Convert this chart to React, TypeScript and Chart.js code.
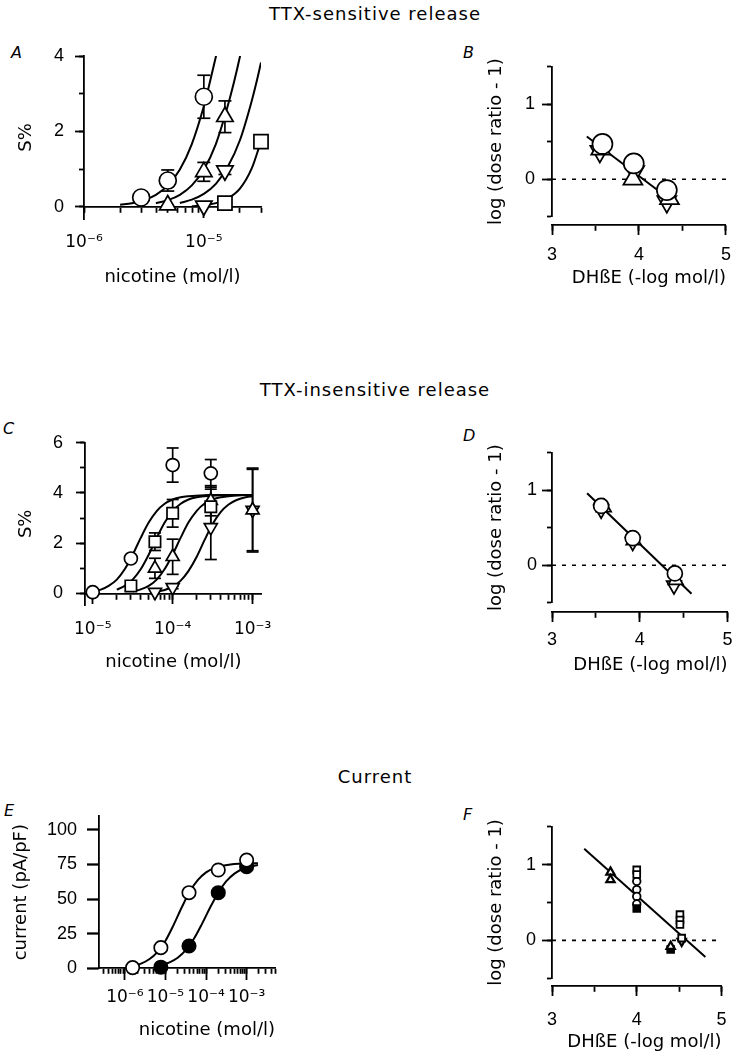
import React, { useEffect, useRef } from 'react';
import { Chart, registerables } from 'chart.js';

Chart.register(...registerables);

const FONT = "'DejaVu Sans', 'Liberation Sans', Arial, sans-serif";
const TICK_FONT = "'Liberation Sans', Arial, 'DejaVu Sans', sans-serif";
Chart.defaults.font.family = FONT;
Chart.defaults.font.size = 18;
Chart.defaults.color = '#000';

// ---------------- text ----------------
const SECTION_TITLES = ['TTX-sensitive release', 'TTX-insensitive release', 'Current'];
const SECTION_TOPS = [5, 381, 768];
const PANEL_LETTERS = ['A', 'B', 'C', 'D', 'E', 'F'];
const LETTER_POS = [[11, 45], [463, 45], [3, 421], [463, 428], [4, 803], [463, 807]];
const NICOTINE_TITLE = 'nicotine (mol/l)';
const DHBE_TITLE = 'DHßE (-log mol/l)';
const SCHILD_Y_TITLE = 'log (dose ratio - 1)';

// ---------------- Panel A : TTX-sensitive release ----------------
const A_CIRC_X = [3e-6, 5e-6, 1e-5];
const A_CIRC_Y = [0.25, 0.7, 2.92];
const A_CIRC_E = [0, 0.28, 0.57];
const A_UP_X = [5e-6, 1e-5, 1.5e-5];
const A_UP_Y = [0.05, 0.93, 2.39];
const A_UP_E = [0, 0.25, 0.42];
const A_DOWN_X = [1e-5, 1.5e-5];
const A_DOWN_Y = [0.03, 0.96];
const A_DOWN_E = [0, 0.1];
const A_SQ_X = [1.5e-5, 3e-5];
const A_SQ_Y = [0.1, 1.73];
const A_SQ_E = [0, 0.08];

const A_FIT1_X = [2.0e-6, 2.51e-6, 3.16e-6, 3.98e-6, 5.01e-6, 6.31e-6, 7.94e-6, 1.0e-5, 1.12e-5, 1.26e-5, 1.32e-5];
const A_FIT1_Y = [0.055, 0.099, 0.179, 0.321, 0.57, 0.99, 1.667, 2.668, 3.29, 3.98, 4.27];
const A_FIT2_X = [3.98e-6, 5.01e-6, 6.31e-6, 7.94e-6, 1.0e-5, 1.26e-5, 1.58e-5, 1.78e-5, 2.0e-5, 2.09e-5];
const A_FIT2_Y = [0.099, 0.179, 0.321, 0.57, 0.99, 1.667, 2.668, 3.29, 3.98, 4.27];
const A_FIT3_X = [6.31e-6, 7.94e-6, 1.0e-5, 1.26e-5, 1.58e-5, 2.0e-5, 2.51e-5, 2.82e-5, 3.0e-5];
const A_FIT3_Y = [0.106, 0.192, 0.344, 0.61, 1.056, 1.767, 2.81, 3.45, 3.83];
const A_FIT4_X = [7.94e-6, 1.0e-5, 1.26e-5, 1.58e-5, 2.0e-5, 2.51e-5, 3.0e-5];
const A_FIT4_Y = [0.02, 0.045, 0.1, 0.221, 0.483, 1.019, 1.742];

const A_X_LABEL_VALUES = [1e-6, 1e-5];
const A_X_LABELS = ['10⁻⁶', '10⁻⁵'];
const A_Y_TICKS = [0, 1, 2, 3, 4];
const A_Y_MAJOR = [0, 2, 4];
const A_Y_LABEL_VALUES = [0, 2, 4];
const A_Y_LABELS = ['0', '2', '4'];

// ---------------- Panel B : Schild plot, TTX-sensitive ----------------
const B_CIRC_X = [3.58, 3.94, 4.32];
const B_CIRC_Y = [0.47, 0.21, -0.145];
const B_UP_X = [3.56, 3.93, 4.35];
const B_UP_Y = [0.4, 0.0, -0.26];
const B_DOWN_X = [3.55, 3.95, 4.32];
const B_DOWN_Y = [0.37, 0.1, -0.3];
const B_LINE_X = [3.4, 4.39];
const B_LINE_Y = [0.57, -0.3];

// ---------------- Panel C : TTX-insensitive release ----------------
const C_CIRC_X = [1e-5, 3e-5, 1e-4, 3e-4];
const C_CIRC_Y = [0.05, 1.39, 5.11, 4.78];
const C_CIRC_E = [0, 0.12, 0.68, 0.55];
const C_SQ_X = [3e-5, 6e-5, 1e-4, 3e-4];
const C_SQ_Y = [0.3, 2.06, 3.19, 3.45];
const C_SQ_E = [0.05, 0.35, 0.55, 0.7];
const C_UP_X = [6e-5, 1e-4, 3e-4, 1e-3];
const C_UP_Y = [1.0, 1.46, 3.69, 3.32];
const C_UP_E = [0.4, 0.7, 0.6, 1.67];
const C_DOWN_X = [6e-5, 1e-4, 3e-4, 1e-3];
const C_DOWN_Y = [0.05, 0.24, 2.63, 3.32];
const C_DOWN_E = [0, 0.05, 1.28, 1.62];

const C_FIT1_X = [1.0e-5, 1.26e-5, 1.58e-5, 2.0e-5, 2.51e-5, 3.16e-5, 3.98e-5, 5.01e-5, 6.31e-5, 7.94e-5, 1.0e-4, 1.26e-4, 1.58e-4, 2.51e-4, 3.98e-4, 1.0e-3];
const C_FIT1_Y = [0.08, 0.15, 0.3, 0.55, 0.96, 1.54, 2.21, 2.82, 3.28, 3.57, 3.74, 3.83, 3.87, 3.91, 3.92, 3.92];
const C_FIT2_X = [2.0e-5, 2.51e-5, 3.16e-5, 3.98e-5, 5.01e-5, 6.31e-5, 7.94e-5, 1.0e-4, 1.26e-4, 1.58e-4, 2.0e-4, 2.51e-4, 3.98e-4, 1.0e-3];
const C_FIT2_Y = [0.15, 0.3, 0.55, 0.96, 1.54, 2.21, 2.82, 3.28, 3.57, 3.74, 3.83, 3.87, 3.91, 3.92];
const C_FIT3_X = [3.16e-5, 3.98e-5, 5.01e-5, 6.31e-5, 7.94e-5, 1.0e-4, 1.26e-4, 1.58e-4, 2.0e-4, 2.51e-4, 3.16e-4, 3.98e-4, 5.01e-4, 6.31e-4, 1.0e-3];
const C_FIT3_Y = [0.08, 0.16, 0.3, 0.55, 0.97, 1.55, 2.22, 2.83, 3.29, 3.58, 3.74, 3.83, 3.87, 3.9, 3.92];
const C_FIT4_X = [6.31e-5, 7.94e-5, 1.0e-4, 1.26e-4, 1.58e-4, 2.0e-4, 2.51e-4, 3.16e-4, 3.98e-4, 5.01e-4, 6.31e-4, 7.94e-4, 1.0e-3];
const C_FIT4_Y = [0.07, 0.14, 0.27, 0.51, 0.9, 1.46, 2.13, 2.76, 3.24, 3.54, 3.72, 3.82, 3.87];

const C_X_LABEL_VALUES = [1e-5, 1e-4, 1e-3];
const C_X_LABELS = ['10⁻⁵', '10⁻⁴', '10⁻³'];
const C_Y_TICKS = [0, 1, 2, 3, 4, 5, 6];
const C_Y_MAJOR = [0, 2, 4, 6];
const C_Y_LABEL_VALUES = [0, 2, 4, 6];
const C_Y_LABELS = ['0', '2', '4', '6'];

// ---------------- Panel D : Schild plot, TTX-insensitive ----------------
const D_CIRC_X = [3.56, 3.92, 4.4];
const D_CIRC_Y = [0.79, 0.36, -0.11];
const D_UP_X = [3.59, 3.93, 4.41];
const D_UP_Y = [0.77, 0.33, -0.2];
const D_DOWN_X = [3.56, 3.92, 4.39];
const D_DOWN_Y = [0.74, 0.31, -0.27];
const D_LINE_X = [3.4, 4.59];
const D_LINE_Y = [0.96, -0.38];

// ---------------- Panel E : current ----------------
const E_OPEN_X = [1.55e-6, 7.7e-6, 3.8e-5, 2.0e-4, 1.0e-3];
const E_OPEN_Y = [0.5, 14.9, 54.6, 71.0, 78.2];
const E_FILL_X = [7.7e-6, 3.8e-5, 2.0e-4, 1.0e-3];
const E_FILL_Y = [0.8, 16.1, 54.6, 73.4];
const E_FIT_OPEN_X = [1.58e-6, 2.51e-6, 3.98e-6, 6.31e-6, 1.0e-5, 1.58e-5, 2.51e-5, 3.98e-5, 6.31e-5, 1.0e-4, 1.58e-4, 2.51e-4, 3.98e-4, 6.31e-4, 1.0e-3, 1.58e-3, 1.9e-3];
const E_FIT_OPEN_Y = [1.8, 3.4, 6.5, 11.7, 19.9, 31.2, 43.9, 55.4, 63.8, 69.3, 72.4, 74.1, 75.0, 75.5, 75.7, 75.9, 75.9];
const E_FIT_FILL_X = [7.94e-6, 1.26e-5, 2.0e-5, 3.16e-5, 5.01e-5, 7.94e-5, 1.26e-4, 2.0e-4, 3.16e-4, 5.01e-4, 7.94e-4, 1.26e-3, 1.9e-3];
const E_FIT_FILL_Y = [2.35, 4.29, 7.64, 13.1, 21.3, 32.1, 43.9, 54.6, 62.9, 68.4, 71.7, 73.6, 74.6];

const E_X_LABEL_VALUES = [1e-6, 1e-5, 1e-4, 1e-3];
const E_X_LABELS = ['10⁻⁶', '10⁻⁵', '10⁻⁴', '10⁻³'];
const E_Y_TICKS = [0, 25, 50, 75, 100];
const E_Y_LABELS = ['0', '25', '50', '75', '100'];

// ---------------- Panel F : Schild plot, current ----------------
const F_UP_X = [3.69, 3.69, 4.4];
const F_UP_Y = [0.9, 0.8, -0.08];
const F_SQ_X = [4.0, 4.0, 4.51, 4.51, 4.51, 4.53];
const F_SQ_Y = [0.93, 0.87, 0.34, 0.27, 0.21, 0.03];
const F_SQ_FILL_X = [4.0, 4.4];
const F_SQ_FILL_Y = [0.42, -0.12];
const F_CIRC_X = [4.0, 4.0, 4.0, 4.0];
const F_CIRC_Y = [0.78, 0.67, 0.58, 0.48];
const F_DOWN_X = [4.53];
const F_DOWN_Y = [-0.01];
const F_LINE_X = [3.38, 4.81];
const F_LINE_Y = [1.21, -0.22];

// ---------------- shared Schild axes ----------------
const SCHILD_X_TICKS = [3, 3.5, 4, 4.5, 5];
const SCHILD_X_MAJOR = [3, 4, 5];
const SCHILD_X_LABELS = ['3', '4', '5'];
const SCHILD_Y_TICKS = [-0.5, 0, 0.5, 1, 1.5];
const SCHILD_Y_MAJOR = [0, 1];
const SCHILD_Y_LABEL_VALUES = [0, 1];
const SCHILD_Y_LABELS = ['0', '1'];
const ZERO_X = [3, 5];
const ZERO_Y = [0, 0];

// log-axis tick positions (1..9 x 10^n inside [lo, hi])
function logTicks(lo: number, hi: number): number[] {
  const out: number[] = [];
  for (let e = Math.floor(Math.log10(lo)) - 1; e <= Math.ceil(Math.log10(hi)); e++) {
    for (let m = 1; m <= 9; m++) {
      const v = m * Math.pow(10, e);
      if (v >= lo * (1 - 1e-9) && v <= hi * (1 + 1e-9)) out.push(v);
    }
  }
  return out;
}

type Pt = { x: number; y: number };
const pts = (xs: number[], ys: number[]): Pt[] => xs.map((x, i) => ({ x, y: ys[i] }));

const LINE_W = 2;
const AXIS_W = 1.8;

function curve(xs: number[], ys: number[], width = LINE_W) {
  return {
    data: pts(xs, ys), showLine: true, borderColor: '#000', borderWidth: width,
    pointRadius: 0, pointHoverRadius: 0, cubicInterpolationMode: 'monotone', order: 2,
  };
}

function straight(xs: number[], ys: number[], width = LINE_W, dash: number[] = []) {
  return {
    data: pts(xs, ys), showLine: true, borderColor: '#000', borderWidth: width, borderDash: dash,
    pointRadius: 0, pointHoverRadius: 0, order: 3, clip: false,
  };
}

function marker(xs: number[], ys: number[], style: string, radius: number, opts: any = {}) {
  return {
    data: pts(xs, ys), showLine: false, pointStyle: style, pointRadius: radius, pointHoverRadius: radius,
    pointBorderColor: '#000', pointBackgroundColor: '#fff', pointBorderWidth: 1.7, pointRotation: 0,
    order: 0, clip: false, ...opts,
  };
}

function errorBars(xs: number[], ys: number[], es: number[], capR: number) {
  const out: any[] = [];
  const caps: Pt[] = [];
  xs.forEach((x, i) => {
    if (!es[i]) return;
    out.push({
      data: [{ x, y: ys[i] - es[i] }, { x, y: ys[i] + es[i] }], showLine: true,
      borderColor: '#000', borderWidth: 1.7, pointRadius: 0, pointHoverRadius: 0, order: 1, clip: false,
    });
    caps.push({ x, y: ys[i] - es[i] }, { x, y: ys[i] + es[i] });
  });
  out.push({
    data: caps, showLine: false, pointStyle: 'line', pointRadius: capR, pointHoverRadius: capR,
    pointBorderColor: '#000', pointBorderWidth: 1.7, order: 1, clip: false,
  });
  return out;
}

interface AxisSpec {
  type: 'linear' | 'logarithmic';
  min: number; max: number;
  ticks: number[]; majors: number[];
  labelValues: number[]; labels: string[];
  minorLen: number; majorLen: number; labelPad: number;
  title: string;
  font?: { family: string; size: number };
}

interface PanelSpec {
  left: number; top: number; width: number; height: number;
  pad: { left: number; right: number; top: number; bottom: number };
  yWidth: number;
  xAt: number;
  xHeight: number;
  xTitleAlign: 'center' | 'end';
  x: AxisSpec; y: AxisSpec;
  datasets: any[];
}

const POW_FONT = { family: FONT, size: 17 };

const SCHILD_X = (labelPad: number): AxisSpec => ({
  type: 'linear', min: 3, max: 5, ticks: SCHILD_X_TICKS, majors: SCHILD_X_MAJOR,
  labelValues: SCHILD_X_MAJOR, labels: SCHILD_X_LABELS, minorLen: 5, majorLen: 10, labelPad, title: DHBE_TITLE,
});
const SCHILD_Y = (labelPad: number): AxisSpec => ({
  type: 'linear', min: -0.5, max: 1.5, ticks: SCHILD_Y_TICKS, majors: SCHILD_Y_MAJOR,
  labelValues: SCHILD_Y_LABEL_VALUES, labels: SCHILD_Y_LABELS, minorLen: 5, majorLen: 10, labelPad, title: SCHILD_Y_TITLE,
});

const PANELS: PanelSpec[] = [
  {
    left: 0, top: 30, width: 310, height: 270,
    pad: { left: 12, right: 49, top: 26, bottom: 81 }, yWidth: 72,
    xAt: 0, xHeight: 81, xTitleAlign: 'center',
    x: {
      type: 'logarithmic', min: 1e-6, max: 3e-5, ticks: logTicks(1e-6, 3e-5), majors: [1e-5],
      labelValues: A_X_LABEL_VALUES, labels: A_X_LABELS, minorLen: 5, majorLen: 11, labelPad: 20, title: NICOTINE_TITLE,
      font: POW_FONT,
    },
    y: {
      type: 'linear', min: -0.32, max: 4, ticks: A_Y_TICKS, majors: A_Y_MAJOR,
      labelValues: A_Y_LABEL_VALUES, labels: A_Y_LABELS, minorLen: 5, majorLen: 9, labelPad: 15, title: 'S%',
    },
    datasets: [
      marker(A_CIRC_X, A_CIRC_Y, 'circle', 8.5),
      marker(A_UP_X, A_UP_Y, 'triangle', 9.5),
      marker(A_DOWN_X, A_DOWN_Y, 'triangle', 9.5, { pointRotation: 180 }),
      marker(A_SQ_X, A_SQ_Y, 'rect', 10),
      ...errorBars(A_CIRC_X, A_CIRC_Y, A_CIRC_E, 6.5),
      ...errorBars(A_UP_X, A_UP_Y, A_UP_E, 6.5),
      ...errorBars(A_DOWN_X, A_DOWN_Y, A_DOWN_E, 6.5),
      ...errorBars(A_SQ_X, A_SQ_Y, A_SQ_E, 6.5),
      curve(A_FIT1_X, A_FIT1_Y),
      curve(A_FIT2_X, A_FIT2_Y),
      curve(A_FIT3_X, A_FIT3_Y),
      curve(A_FIT4_X, A_FIT4_Y),
    ],
  },
  {
    left: 372, top: 30, width: 373, height: 270,
    pad: { left: 110, right: 16, top: 36.7, bottom: 83.3 }, yWidth: 70,
    xAt: -0.61, xHeight: 64, xTitleAlign: 'end',
    x: SCHILD_X(14), y: SCHILD_Y(12),
    datasets: [
      marker(B_CIRC_X, B_CIRC_Y, 'circle', 10),
      marker(B_UP_X, B_UP_Y, 'triangle', 11),
      marker(B_DOWN_X, B_DOWN_Y, 'triangle', 11, { pointRotation: 180 }),
      straight(B_LINE_X, B_LINE_Y),
      straight(ZERO_X, ZERO_Y, 1.6, [4, 6]),
    ],
  },
  {
    left: 0, top: 400, width: 310, height: 290,
    pad: { left: 12, right: 48.3, top: 42.7, bottom: 85 }, yWidth: 73,
    xAt: 0, xHeight: 79.5, xTitleAlign: 'center',
    x: {
      type: 'logarithmic', min: 8e-6, max: 1.3e-3, ticks: logTicks(1e-5, 1e-3), majors: [1e-5, 1e-4, 1e-3],
      labelValues: C_X_LABEL_VALUES, labels: C_X_LABELS, minorLen: 5, majorLen: 11, labelPad: 21, title: NICOTINE_TITLE,
      font: POW_FONT,
    },
    y: {
      type: 'linear', min: -0.46, max: 6, ticks: C_Y_TICKS, majors: C_Y_MAJOR,
      labelValues: C_Y_LABEL_VALUES, labels: C_Y_LABELS, minorLen: 5, majorLen: 9, labelPad: 17, title: 'S%',
    },
    datasets: [
      marker(C_CIRC_X, C_CIRC_Y, 'circle', 6.5),
      marker(C_SQ_X, C_SQ_Y, 'rect', 8),
      marker(C_UP_X, C_UP_Y, 'triangle', 7.5),
      marker(C_DOWN_X, C_DOWN_Y, 'triangle', 7.5, { pointRotation: 180 }),
      ...errorBars(C_CIRC_X, C_CIRC_Y, C_CIRC_E, 6),
      ...errorBars(C_SQ_X, C_SQ_Y, C_SQ_E, 6),
      ...errorBars(C_UP_X, C_UP_Y, C_UP_E, 6),
      ...errorBars(C_DOWN_X, C_DOWN_Y, C_DOWN_E, 6),
      curve(C_FIT1_X, C_FIT1_Y),
      curve(C_FIT2_X, C_FIT2_Y),
      curve(C_FIT3_X, C_FIT3_Y),
      curve(C_FIT4_X, C_FIT4_Y),
    ],
  },
  {
    left: 372, top: 400, width: 373, height: 290,
    pad: { left: 110, right: 17, top: 52.7, bottom: 87.3 }, yWidth: 70,
    xAt: -0.62, xHeight: 64, xTitleAlign: 'end',
    x: SCHILD_X(12.5), y: SCHILD_Y(10),
    datasets: [
      marker(D_CIRC_X, D_CIRC_Y, 'circle', 7.5),
      marker(D_UP_X, D_UP_Y, 'triangle', 8.5),
      marker(D_DOWN_X, D_DOWN_Y, 'triangle', 8.5, { pointRotation: 180 }),
      straight(D_LINE_X, D_LINE_Y),
      straight(ZERO_X, ZERO_Y, 1.6, [4, 6]),
    ],
  },
  {
    left: 0, top: 780, width: 310, height: 284,
    pad: { left: 7, right: 35, top: 36, bottom: 95.7 }, yWidth: 92,
    xAt: 0, xHeight: 72.5, xTitleAlign: 'end',
    x: {
      type: 'logarithmic', min: 2.3e-7, max: 5e-3, ticks: logTicks(3e-7, 5e-3), majors: [1e-6, 1e-5, 1e-4, 1e-3],
      labelValues: E_X_LABEL_VALUES, labels: E_X_LABELS, minorLen: 5, majorLen: 12, labelPad: 14, title: NICOTINE_TITLE,
      font: POW_FONT,
    },
    y: {
      type: 'linear', min: 0, max: 110, ticks: E_Y_TICKS, majors: E_Y_TICKS,
      labelValues: E_Y_TICKS, labels: E_Y_LABELS, minorLen: 12, majorLen: 12, labelPad: 10, title: 'current (pA/pF)',
    },
    datasets: [
      marker(E_OPEN_X, E_OPEN_Y, 'circle', 6.7),
      marker(E_FILL_X, E_FILL_Y, 'circle', 6.7, { pointBackgroundColor: '#000' }),
      curve(E_FIT_OPEN_X, E_FIT_OPEN_Y),
      curve(E_FIT_FILL_X, E_FIT_FILL_Y),
    ],
  },
  {
    left: 372, top: 780, width: 373, height: 284,
    pad: { left: 110, right: 19, top: 46.7, bottom: 85.7 }, yWidth: 70,
    xAt: -0.598, xHeight: 67, xTitleAlign: 'end',
    x: SCHILD_X(18.5), y: SCHILD_Y(11),
    datasets: [
      marker(F_UP_X, F_UP_Y, 'triangle', 4.8, { pointBorderWidth: 2.2 }),
      marker(F_SQ_X, F_SQ_Y, 'rect', 4.8, { pointBorderWidth: 1.8 }),
      marker(F_SQ_FILL_X, F_SQ_FILL_Y, 'rect', 4.8, { pointBorderWidth: 1.8, pointBackgroundColor: '#000' }),
      marker(F_CIRC_X, F_CIRC_Y, 'circle', 3.8, { pointBorderWidth: 1.8 }),
      marker(F_DOWN_X, F_DOWN_Y, 'triangle', 4.8, { pointRotation: 180, pointBorderWidth: 2.2 }),
      straight(F_LINE_X, F_LINE_Y),
      straight(ZERO_X, ZERO_Y, 1.6, [4, 6]),
    ],
  },
];

function buildConfig(s: PanelSpec): any {
  const lab = (a: AxisSpec) => (v: number) => {
    const i = a.labelValues.findIndex((l) => Math.abs(l - v) <= Math.abs(l) * 1e-6 + 1e-12);
    return i >= 0 ? a.labels[i] : '';
  };
  const grid = (len: number) => ({
    display: true, drawOnChartArea: false, drawTicks: true, tickLength: len,
    tickWidth: AXIS_W, tickColor: '#000', color: '#000',
  });
  const setTicks = (vals: number[]) => (sc: any) => { sc.ticks = vals.map((v) => ({ value: v })); };
  const font = { family: FONT, size: 18 };
  const tickFont = { family: TICK_FONT, size: 18 };
  return {
    type: 'scatter',
    data: { datasets: s.datasets },
    options: {
      responsive: false, animation: false, devicePixelRatio: 1, events: [],
      layout: { padding: s.pad, autoPadding: false },
      plugins: { legend: { display: false }, tooltip: { enabled: false }, title: { display: false } },
      scales: {
        x: {
          axis: 'x', type: s.x.type, min: s.x.min, max: s.x.max, bounds: 'data', position: { y: s.xAt },
          afterBuildTicks: setTicks(s.x.ticks), afterFit: (sc: any) => { sc.height = s.xHeight; },
          grid: grid(s.x.minorLen), border: { display: true, color: '#000', width: AXIS_W },
          ticks: {
            autoSkip: false, maxRotation: 0, minRotation: 0, padding: s.x.labelPad, color: '#000',
            font: s.x.font || tickFont, callback: lab(s.x),
          },
          title: {
            display: true, text: s.x.title, align: s.xTitleAlign, color: '#000', font,
            padding: { top: 0, bottom: 0 },
          },
        },
        xMajor: {
          axis: 'x', type: s.x.type, min: s.x.min, max: s.x.max, bounds: 'data', position: { y: s.xAt },
          afterBuildTicks: setTicks(s.x.majors), grid: grid(s.x.majorLen),
          border: { display: false }, ticks: { display: false }, title: { display: false },
        },
        y: {
          axis: 'y', type: 'linear', min: s.y.min, max: s.y.max, bounds: 'data', position: 'left',
          afterBuildTicks: setTicks(s.y.ticks), afterFit: (sc: any) => { sc.width = s.yWidth; },
          grid: grid(s.y.minorLen), border: { display: true, color: '#000', width: AXIS_W },
          ticks: { autoSkip: false, padding: s.y.labelPad, color: '#000', font: s.y.font || tickFont, callback: lab(s.y) },
          title: { display: true, text: s.y.title, color: '#000', font, padding: { top: 4, bottom: 4 } },
        },
        yMajor: {
          axis: 'y', type: 'linear', min: s.y.min, max: s.y.max, bounds: 'data', position: { x: s.x.min },
          afterBuildTicks: setTicks(s.y.majors), grid: grid(s.y.majorLen),
          border: { display: false }, ticks: { display: false }, title: { display: false },
        },
      },
    },
  };
}

function ChartPanel({ spec }: { spec: PanelSpec }) {
  const ref = useRef<HTMLCanvasElement>(null);
  useEffect(() => {
    if (!ref.current) return;
    const chart = new Chart(ref.current, buildConfig(spec));
    return () => chart.destroy();
  }, [spec]);
  return (
    <canvas
      ref={ref}
      width={spec.width}
      height={spec.height}
      style={{ position: 'absolute', left: spec.left, top: spec.top, width: spec.width, height: spec.height }}
    />
  );
}

export default function App() {
  return (
    <div
      style={{
        position: 'absolute', left: 0, top: 0, width: 745, height: 1064,
        background: '#fff', overflow: 'hidden', fontFamily: FONT, color: '#000',
      }}
    >
      {SECTION_TITLES.map((t, i) => (
        <div
          key={t}
          style={{
            position: 'absolute', left: 375, top: SECTION_TOPS[i], transform: 'translateX(-50%)',
            fontSize: 18, lineHeight: '18px', letterSpacing: '1px', whiteSpace: 'nowrap',
          }}
        >
          {t}
        </div>
      ))}
      {PANEL_LETTERS.map((l, i) => (
        <div
          key={l}
          style={{
            position: 'absolute', left: LETTER_POS[i][0], top: LETTER_POS[i][1],
            fontSize: 16, lineHeight: '16px', fontStyle: 'italic',
          }}
        >
          {l}
        </div>
      ))}
      {PANELS.map((p, i) => (
        <ChartPanel key={i} spec={p} />
      ))}
    </div>
  );
}
